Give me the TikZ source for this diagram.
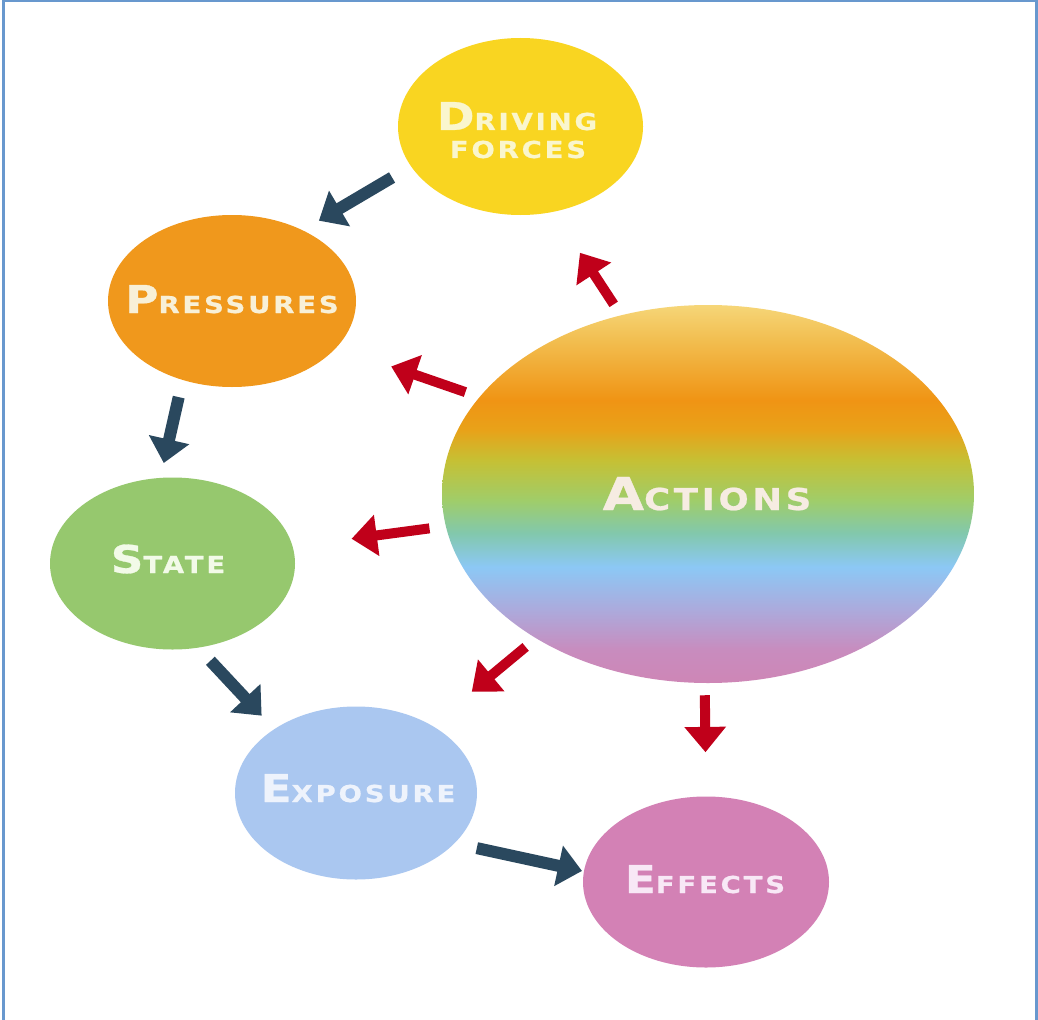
\documentclass[tikz,border=0pt]{standalone}
\usepackage{fontspec}
\usetikzlibrary{shapes.geometric,arrows.meta}
\newfontfamily\lblfont[LetterSpace=12,FakeStretch=1.18,FakeBold=0.8]{DejaVu Sans Bold}
% fills
\definecolor{cdr}{RGB}{249,213,33}
\definecolor{cpr}{RGB}{240,152,28}
\definecolor{cst}{RGB}{150,200,110}
\definecolor{cex}{RGB}{170,199,240}
\definecolor{cef}{RGB}{211,129,181}
\definecolor{cborder}{RGB}{104,152,206}
\definecolor{cdark}{RGB}{42,72,94}
\definecolor{cred}{RGB}{192,0,26}
% text colours
\definecolor{tdr}{RGB}{250,246,205}
\definecolor{tpr}{RGB}{248,240,215}
\definecolor{tst}{RGB}{242,250,232}
\definecolor{tex}{RGB}{238,243,252}
\definecolor{tef}{RGB}{248,232,246}
\definecolor{tac}{RGB}{246,236,226}
% rainbow stops (top to bottom)
\definecolor{rbA}{RGB}{246,214,120}
\definecolor{rbB}{RGB}{242,190,80}
\definecolor{rbC}{RGB}{240,148,20}
\definecolor{rbD}{RGB}{232,162,25}
\definecolor{rbE}{RGB}{198,192,52}
\definecolor{rbF}{RGB}{160,205,105}
\definecolor{rbG}{RGB}{130,200,172}
\definecolor{rbH}{RGB}{140,200,245}
\definecolor{rbI}{RGB}{172,170,220}
\definecolor{rbJ}{RGB}{200,140,190}
\definecolor{rbK}{RGB}{206,134,182}
\pgfdeclareverticalshading{rainbow}{100bp}{color(0bp)=(rbK); color(25bp)=(rbK); color(29.37bp)=(rbJ); color(34.66bp)=(rbI); color(40.34bp)=(rbH); color(44.84bp)=(rbG); color(49.21bp)=(rbF); color(54.5bp)=(rbE); color(58.47bp)=(rbD); color(62.43bp)=(rbC); color(70.37bp)=(rbB); color(75bp)=(rbA); color(100bp)=(rbA)}
\newcommand\capsm[4]{{\fontsize{#1}{#1}\selectfont #3}{\fontsize{#2}{#2}\selectfont #4}}
\begin{document}
\begin{tikzpicture}[x=0.75pt,y=-0.75pt,
  bub/.style={ellipse, draw=none, inner sep=0pt},
  lbl/.style={anchor=base, inner sep=0pt, font=\lblfont},
  darr/.style={cdark, line width=9pt, -{Triangle[width=30pt,length=18pt]}},
  rarr/.style={cred, line width=7.5pt, -{Triangle[width=30pt,length=19pt]}}]
\useasboundingbox (0,0) rectangle (1038,1020);
\fill[white] (0,0) rectangle (1038,1020);
\draw[cborder, line width=2.25pt] (3,1020) -- (3,0.75) -- (1036.5,0.75) -- (1036.5,1020);
% bubbles
\node[bub, fill=cdr, minimum width=183.75pt, minimum height=132.75pt] (dr) at (520.5,126.5) {};
\node[bub, fill=cpr, minimum width=186pt, minimum height=129pt] (pr) at (232,301) {};
\node[bub, fill=cst, minimum width=183.75pt, minimum height=129pt] (st) at (172.5,563.5) {};
\node[bub, fill=cex, minimum width=181.5pt, minimum height=129.75pt] (ex) at (356,793) {};
\node[bub, fill=cef, minimum width=184.5pt, minimum height=128.25pt] (ef) at (706,882) {};
\node[bub, shading=rainbow, minimum width=399pt, minimum height=283.5pt] (ac) at (708,494) {};
% labels
\node[lbl, text=tdr] (drA) at (517,130) {\capsm{28.8}{17.5}{D}{RIVING}};
\node[lbl, text=tdr] (drB) at (518,158) {\capsm{17.5}{17.5}{}{FORCES}};
\node[lbl, text=tpr] (prt) at (232,313) {\capsm{28.8}{17.5}{P}{RESSURES}};
\node[lbl, text=tst] (stt) at (168,573) {\capsm{28.8}{17.5}{S}{TATE}};
\node[lbl, text=tex] (ext) at (358,802) {\capsm{28.8}{17.5}{E}{XPOSURE}};
\node[lbl, text=tef] (eft) at (705,893) {\capsm{28.8}{17.5}{E}{FFECTS}};
\node[lbl, text=tac] (act) at (707,510) {\capsm{34}{22.6}{A}{CTIONS}};
% dark cycle arrows
\draw[darr, shorten <=16.35pt, shorten >=13.95pt] (dr.200.6) -- (pr.45.3);
\draw[darr, shorten <=13.05pt, shorten >=11.25pt] (pr.238.8) -- (st.98.5);
\draw[darr, shorten <=13.3pt, shorten >=13.7pt] (st.287.1) -- (ex.142.4);
\draw[darr, shorten <=16.9pt, shorten >=1.3pt] (ex.333.3) -- (ef.175.5);
% red action arrows
\draw[rarr, shorten <=9.7pt, shorten >=36.5pt] (ac.116.6) -- (dr.291.4);
\draw[rarr, shorten <=11.1pt, shorten >=43.3pt] (ac.157.3) -- (pr.336.3);
\draw[rarr, shorten <=12.2pt, shorten >=44.4pt] (ac.187.2) -- (st.8.8);
\draw[rarr, shorten <=10pt, shorten >=39.3pt] (ac.220.7) -- (ex.42.2);
\draw[rarr, shorten <=9pt, shorten >=33pt] (ac.269.4) -- (ef.90);
\end{tikzpicture}
\end{document}
